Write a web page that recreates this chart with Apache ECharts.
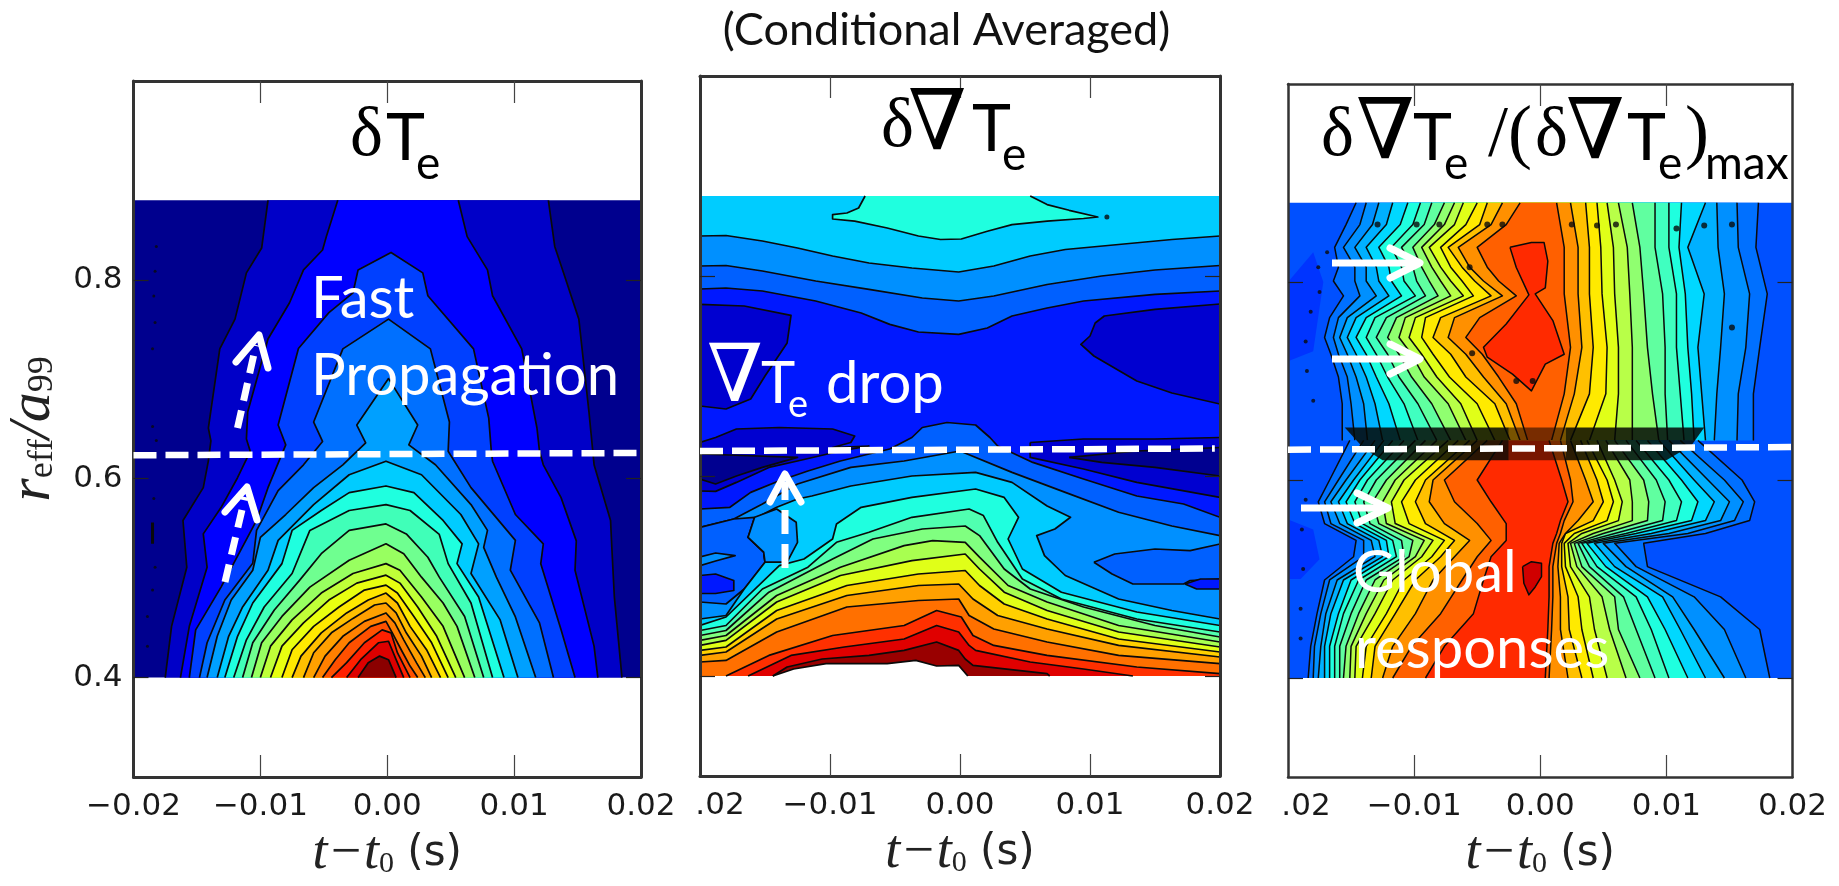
<!DOCTYPE html>
<html><head><meta charset="utf-8">
<style>html,body{margin:0;padding:0;background:#fff}#c{width:1839px;height:886px}</style>
<script src="https://cdn.jsdelivr.net/npm/echarts@6/dist/echarts.min.js"></script>
</head><body><div id="c"></div>
<script>
// All contour vertices are [t in ms, r_eff/a99].
const xTicks = [-0.01, 0, 0.01];
const yTicks = [0.4, 0.6, 0.8];

// ---------- Panel 1: delta Te ----------
const tempColors = ['#0000c8','#0000ff','#0040ff','#0070ff','#00a0ff','#00ccff','#1fffdf','#40ffb8','#6fff90','#98ff60','#c0ff38','#e8ff10','#ffe800','#ffc000','#ffa000','#ff8000','#ff5000','#ff2000','#dd0000','#8b0000'];
const tempContours = [
 [[-17.5,.4],[-17,.4515],[-15.8,.511],[-16.1,.558],[-14.5,.591],[-14.1,.618],[-13.9,.638],[-14.1,.651],[-13.2,.7306],[-12,.7605],[-11.1,.807],[-9.9,.832],[-9.4,.88],[12.7,.88],[13.2,.8336],[13.9,.807],[15.1,.7605],[15.9,.667],[16.2,.6276],[16.3,.614],[17.6,.558],[17.7,.531],[17.9,.481],[18.5,.4]],
 [[-16.3,.4],[-15.6,.4515],[-14.2,.511],[-14.5,.5445],[-13.1,.571],[-11.8,.601],[-10.8,.6276],[-11.1,.64],[-11,.667],[-9.4,.7405],[-7.7,.777],[-6.6,.81],[-5.1,.83],[-4.8,.8435],[-3.9,.88],[5.6,.88],[6.3,.8435],[7.9,.81],[8.3,.784],[10.6,.7306],[11.8,.651],[12,.6276],[12.3,.614],[13.7,.581],[14.9,.5375],[14.8,.508],[16.3,.4316],[16.6,.4]],
 [[-15.6,.4],[-15.1,.448],[-13.1,.491],[-10.3,.558],[-9.4,.591],[-8,.634],[-8.6,.654],[-7,.731],[-4.6,.767],[-2.7,.787],[-2.3,.81],[.3,.8276],[2.8,.807],[3.2,.784],[6.8,.7306],[8,.661],[8.2,.6276],[8.3,.6176],[10.1,.564],[12.3,.5345],[12.1,.5146],[13.7,.448],[14.8,.4]],
 [[-14.8,.4],[-14.2,.435],[-12.8,.478],[-10.6,.515],[-10.3,.548],[-8.6,.588],[-6.6,.614],[-5.1,.6375],[-5.8,.657],[-3.5,.7306],[.1,.7605],[3.4,.7306],[4.9,.657],[4.8,.6276],[6.6,.591],[10.1,.538],[9.7,.508],[12,.455],[13.1,.4]],
 [[-14.2,.4],[-13.4,.4415],[-12.3,.478],[-10.6,.508],[-10,.541],[-8,.564],[-5.8,.591],[-3.5,.614],[-1.7,.636],[-2.4,.654],[.1,.7007],[2.4,.654],[1.7,.634],[3.8,.614],[6.6,.574],[7.9,.548],[7.6,.531],[8.6,.501],[10.1,.461],[11.7,.4]],
 [[-13.4,.4],[-12.5,.4415],[-11.4,.471],[-9.4,.508],[-8.6,.538],[-5.8,.574],[-3,.604],[-.1,.6176],[2.7,.604],[5.8,.564],[7.2,.5345],[6.6,.5047],[8.9,.458],[10.3,.4]],
 [[-12.8,.4],[-11.8,.4415],[-10.6,.475],[-8.3,.5146],[-7.5,.548],[-5.2,.568],[-3,.586],[-.1,.5927],[2.1,.586],[4.4,.558],[5.9,.5345],[5.5,.5146],[7.2,.481],[9.2,.4]],
 [[-12.1,.4],[-11.1,.438],[-9.7,.471],[-7.5,.5047],[-6.1,.548],[-3,.568],[-.1,.574],[1.8,.568],[4.1,.544],[4.8,.5146],[6.6,.475],[8.3,.4]],
 [[-11.4,.4],[-10.6,.435],[-8.9,.468],[-6.9,.498],[-5.2,.5246],[-3,.548],[-.1,.5545],[1.5,.5445],[3.2,.521],[4.1,.501],[6.1,.4615],[7.6,.4]],
 [[-10.7,.4],[-9.9,.435],[-8.3,.4615],[-6.1,.491],[-3,.518],[-.1,.5345],[1.3,.5246],[2.7,.501],[4.4,.475],[5.5,.4515],[6.9,.4]],
 [[-10,.4],[-9.2,.4316],[-7.5,.458],[-5.2,.485],[-2.7,.5047],[-.1,.5146],[1,.508],[2.7,.481],[4.4,.4515],[6.1,.4]],
 [[-9.2,.4],[-8.3,.4316],[-6.6,.455],[-4.6,.478],[-2.4,.495],[-.1,.503],[1,.495],[2.4,.471],[3.9,.4415],[5.4,.4]],
 [[-8.3,.4],[-7.5,.428],[-5.8,.4515],[-3.8,.471],[-1.8,.488],[-.1,.493],[.8,.485],[2.1,.4615],[3.5,.435],[4.8,.4]],
 [[-7.5,.4],[-6.8,.4216],[-5.2,.445],[-3.2,.465],[-1.5,.478],[-.1,.485],[.8,.475],[1.8,.4515],[3.1,.428],[4.2,.4]],
 [[-6.6,.4],[-5.8,.425],[-4.4,.445],[-2.7,.4595],[-1,.473],[-.1,.475],[.7,.465],[1.5,.445],[2.7,.4216],[3.5,.4]],
 [[-5.8,.4],[-4.9,.4216],[-3.5,.4415],[-1.8,.4565],[-.1,.465],[.6,.455],[1.3,.438],[2.3,.415],[3,.4]],
 [[-5.1,.4],[-4.1,.418],[-3,.435],[-1.3,.4515],[-.1,.4565],[.4,.445],[1.1,.428],[1.8,.4116],[2.4,.4]],
 [[-4.4,.4],[-3.2,.415],[-1.8,.435],[-.4,.448],[.3,.445],[.8,.425],[1.8,.4]],
 [[-3.2,.4],[-2.1,.418],[-.7,.435],[.1,.4365],[.7,.418],[1.3,.4]],
 [[-2.3,.4],[-1.5,.415],[-.6,.4216],[.1,.418],[.7,.4]]
];
const tempDots = [[-18.2,.8336],[-18.3,.8086],[-18.4,.7837],[-18.3,.757],[-18.5,.7306],[-18.5,.6525],[-18.2,.6385],[-18.4,.58],[-18.3,.511],[-18.5,.488],[-18.9,.4615],[-18.9,.4316]];
const tempBar = [[-18.5,.556],[-18.5,.5345]];

// ---------- Panel 2: delta grad Te ----------
const gradColors = ['#0018ff','#0060ff','#0090ff','#00ccff','#1fffdf','#0000d0','#0000d0','#0060ff','#0090ff','#0000d0','#000090','#0000d0','#000090','#0060ff','#0090ff','#0060ff','#0018ff','#0018ff','#00ccff','#0090ff','#1fffdf','#50ffb0','#80ff80','#a8ff50','#e0ff18','#ffd000','#ffa000','#ff7000','#ff3000','#e00000','#990000','#ffffff'];
const gradContours = [
 [[-20,.4],[-20,.88],[20,.88],[20,.4]],
 [[-20,.88],[20,.88],[20,.785],[15,.7816],[9.5,.775],[6.7,.768],[4,.76],[2.1,.748],[-.1,.7416],[-3.2,.744],[-5.4,.7516],[-7.6,.763],[-11.1,.775],[-15.2,.785],[-18,.788],[-20,.787]],
 [[-20,.88],[20,.88],[20,.8105],[15,.806],[10.9,.8],[6.7,.7915],[2.6,.78],[-.1,.775],[-2.9,.778],[-7,.7866],[-11.1,.795],[-15.2,.805],[-18,.8105],[-20,.81]],
 [[-20,.88],[20,.88],[20,.84],[16.3,.8365],[12.2,.8315],[8.1,.8265],[5.4,.82],[2.6,.81],[-.1,.804],[-3.7,.808],[-7,.813],[-9.8,.82],[-12.5,.828],[-15.2,.835],[-18,.8405],[-20,.84]],
 [[-7.3,.88],[-7.8,.868],[-8.7,.863],[-9.8,.8614],[-9.8,.857],[-8.1,.8548],[-5.6,.848],[-3.2,.84],[-1.5,.8365],[.1,.837],[2.1,.8448],[4,.8514],[6.7,.8548],[9.5,.8575],[10.6,.859],[8.4,.8657],[6.7,.8714],[5.4,.88]],
 [[-20,.7716],[-16.6,.77],[-13,.7606],[-13.3,.733],[-15,.7],[-16.1,.677],[-18,.667],[-20,.67]],
 [[20,.772],[15,.7666],[11.1,.76],[10.4,.753],[10,.74],[9.3,.7316],[10.3,.72],[13.6,.695],[16.3,.683],[20,.672]],
 [[-20,.567],[-17.7,.5687],[-16.1,.5836],[-13.9,.5953],[-11.7,.605],[-9.2,.615],[-7,.622],[-5.4,.627],[-3.7,.6385],[-2.9,.6485],[-1,.6535],[1.2,.651],[2.3,.6385],[2.9,.63],[5.6,.6136],[9.5,.597],[13.6,.58],[17.2,.572],[20,.5587],[20,.4],[-20,.4]],
 [[-20,.5487],[-17.4,.557],[-15.2,.572],[-12.5,.592],[-8.4,.6086],[-4.3,.615],[0,.625],[4,.6036],[8.1,.5836],[12.2,.5637],[16.3,.55],[20,.5404],[20,.4],[-20,.4]],
 [[-20,.6335],[-18.8,.6385],[-17.2,.647],[-13.9,.6485],[-9.8,.647],[-8.1,.64],[-8.4,.6335],[-9.8,.6285],[-7,.63],[-9.2,.625],[-12.5,.615],[-14.7,.6086],[-17.2,.5936],[-18.8,.5846],[-20,.585]],
 [[-20,.622],[-12.5,.6186],[-15.2,.6086],[-17.2,.6],[-18.8,.592],[-20,.597]],
 [[5.4,.6335],[9.5,.637],[15,.637],[20,.6385],[20,.5786],[13.6,.5936],[9.5,.607],[5.4,.6186]],
 [[8.4,.6186],[13.6,.625],[20,.6285],[20,.6],[15,.6086],[10.9,.6136]],
 [[-20,.5487],[-17.4,.557],[-15.8,.5587],[-16.3,.5387],[-15.1,.5238],[-15,.5138],[-16.6,.487],[-18,.472],[-20,.474]],
 [[-20,.519],[-18.8,.523],[-17.3,.5204],[-18.8,.515],[-20,.5104]],
 [[10.3,.5138],[11.9,.522],[15,.527],[17.7,.5254],[20,.532],[20,.497],[17.7,.4955],[17.2,.492],[13.3,.492],[11.7,.502]],
 [[17.3,.492],[18.5,.497],[20,.497],[20,.487],[18.2,.487]],
 [[-20,.5005],[-18.8,.502],[-17.4,.4955],[-17.4,.4855],[-18.8,.4825],[-20,.4825]],
 [[-20,.457],[-18,.4605],[-16.6,.487],[-15,.5138],[-15.1,.5238],[-16.3,.5387],[-15.6,.5587],[-14.1,.5687],[-12.5,.577],[-11.4,.58],[-8.4,.59],[-3.7,.6],[1.2,.6036],[4,.5936],[6.7,.57],[8.5,.5587],[7.3,.547],[5.9,.5404],[6.5,.5204],[8.1,.5005],[12.2,.477],[16.3,.4655],[20,.457],[20,.4],[-20,.4]],
 [[-15.8,.5587],[-14.1,.567],[-12.6,.5537],[-12.5,.5337],[-13.3,.5138],[-15,.5138],[-15.1,.5238],[-16.3,.5387]],
 [[-20,.4505],[-18,.459],[-13.9,.5104],[-12,.517],[-9.8,.537],[-9.5,.552],[-7.6,.5687],[-3.7,.5786],[1.2,.587],[3.4,.5786],[4.5,.5587],[3.7,.537],[4.8,.507],[7.8,.4838],[13.6,.464],[20,.4505],[20,.4],[-20,.4]],
 [[-20,.4455],[-18,.4505],[-15.2,.487],[-11.7,.5088],[-9.5,.5337],[-7,.5437],[-3.7,.5587],[.7,.567],[1.8,.5604],[2.9,.5337],[4.8,.497],[7.8,.477],[13.6,.457],[20,.444],[20,.4],[-20,.4]],
 [[-20,.4405],[-18,.4455],[-14.7,.4838],[-9.8,.517],[-6.7,.537],[-2.9,.547],[.4,.55],[1.5,.5404],[3.4,.507],[5.4,.487],[9.5,.469],[15,.4505],[20,.439],[20,.4],[-20,.4]],
 [[-20,.4356],[-18,.4405],[-14.1,.4805],[-9.2,.5088],[-4.3,.5304],[-2.1,.5354],[.4,.5337],[1.5,.5188],[3.7,.4905],[6.7,.474],[12.2,.4505],[20,.434],[20,.4],[-20,.4]],
 [[-20,.4306],[-18,.4356],[-14.1,.474],[-9.2,.5005],[-3.7,.5154],[.4,.522],[1.5,.507],[3.4,.4838],[6.7,.4655],[12.2,.444],[20,.429],[20,.4],[-20,.4]],
 [[-20,.4256],[-18,.429],[-14.1,.4655],[-8.7,.4905],[-3.2,.502],[.4,.5055],[1.5,.4905],[3.4,.472],[6.7,.457],[12.2,.437],[20,.424],[20,.4],[-20,.4]],
 [[-20,.4206],[-18,.424],[-14.1,.457],[-8.7,.4805],[-3.2,.4905],[-.1,.492],[1,.477],[2.9,.4605],[6.7,.447],[12.2,.4306],[20,.419],[20,.4],[-20,.4]],
 [[-20,.414],[-18,.4156],[-14.1,.444],[-8.7,.469],[-3.2,.4755],[-.1,.477],[.7,.4605],[2.6,.447],[6.7,.434],[12.2,.4206],[20,.4123],[20,.4],[-20,.4]],
 [[-18,.4],[-14.7,.4206],[-9.8,.4405],[-4.3,.4505],[-1.8,.4655],[.1,.459],[1,.4405],[2.6,.4306],[6.7,.4206],[13.6,.409],[20,.4023],[20,.4]],
 [[-16.3,.4],[-13,.4206],[-8.9,.429],[-4.3,.437],[-1.8,.4505],[-.1,.444],[.7,.4306],[1.2,.4256],[5.4,.414],[9.5,.407],[13.3,.4]],
 [[-14.4,.4],[-13.3,.409],[-10.6,.417],[-7,.4206],[-4.3,.4256],[-1.8,.434],[-.1,.4256],[.4,.417],[1,.4106],[6.7,.4023],[6.9,.4]],
 [[-14.4,.4],[-12.8,.407],[-10.3,.4123],[-5.6,.4123],[-3.4,.4156],[-1.8,.41],[-.1,.4106],[.6,.4]]
];
const gradDots = [[11.3,.859]];

// ---------- Panel 3: normalised delta grad Te ----------
const normColors = ['#0070ff','#0090ff','#00b0ff','#00d8ff','#1fffdf','#40ffc0','#60ffa0','#90ff70','#b8ff48','#e0ff18','#ffea00','#ffc000','#ff9000','#ff6000','#ff2a00'];
const upperRowsLeft = [.88,.858,.835,.815,.801,.786,.764,.744,.727,.704,.677,.64];
const upperRowsRight = [.88,.835,.788,.734,.687,.64];
const upperLeftT = [
 [-14.6,-15.4,-16.3,-16,-16.4,-15.6,-16.7,-17.1,-16.6,-16,-15.7,-15.7],
 [-13.8,-14.3,-15.6,-14.7,-14.7,-14.3,-16,-16.4,-16,-15.3,-15,-14.7],
 [-12.8,-13.3,-14.7,-13.8,-13.8,-13,-15.3,-15.9,-15.3,-14.6,-14,-13.7],
 [-11.7,-12.2,-13.8,-13,-12.8,-12,-14.6,-15.3,-14.6,-13.8,-13.1,-12.5],
 [-10.5,-11.1,-12.8,-12,-11.8,-11,-13.8,-14.6,-13.8,-13,-12,-11.1],
 [-9.5,-10.1,-11.8,-11,-10.8,-9.9,-13.1,-13.8,-13,-12.1,-10.8,-9.7],
 [-8.6,-9.2,-11,-10.1,-9.8,-9.1,-12.2,-13,-12.1,-11.2,-9.7,-8.2],
 [-7.6,-8.4,-10.1,-9.4,-8.8,-8.1,-11.4,-12.1,-11.2,-10.2,-8.6,-7.1],
 [-6.8,-7.6,-9.4,-8.6,-7.9,-7.1,-10.7,-11.2,-10.2,-9.2,-7.3,-5.9],
 [-6.1,-6.8,-8.8,-7.9,-7.1,-6.1,-9.9,-10.4,-9.4,-8.2,-6.3,-5],
 [-5,-5.9,-7.9,-7.1,-6.2,-5.3,-9.1,-9.4,-8.5,-7.2,-5,-3.6],
 [-4.2,-4.8,-7.3,-6.2,-5.2,-3.9,-7.9,-8.5,-7.1,-5.9,-3.6,-2.4],
 [-3,-3.9,-6.5,-5.6,-4.5,-3,-6.8,-7.3,-5.9,-4.5,-2.7,-1.6],
 [-1.6,-2.7,-5,-4.2,-3.3,-1.9,-4.8,-5.9,-4.6,-3.3,-1.9,-1]
];
const upperRightT = [
 [17.3,17.1,18,17.4,16.9,16.9],[15.6,15.7,16.6,16.3,15.7,15.6],[14,14.1,14.6,14.3,14,13.8],[13.1,11.7,13,12.5,12.8,13.1],
 [11.2,11,11.5,11.7,12,12.2],[10.2,10.2,10.8,10.8,11.1,11.4],[9.1,9.1,9.7,9.9,9.9,10.1],[7.3,7.9,8.2,8.5,8.9,9.4],
 [6.2,6.9,7.1,7.3,7.3,7.3],[5.3,5.8,5.9,6.2,6.2,5.9],[4.5,4.8,4.9,5.3,5.2,3.9],[3.6,3.9,3.9,4.2,3.9,2.4],[2.4,3,3,3.3,2.7,1.6],[1.3,1.9,1.9,2.4,1.9,.9]
];
const upperRedIsland = [[-2.4,.835],[-.7,.84],[.3,.84],[.6,.821],[.4,.794],[-.4,.788],[1,.761],[1.9,.727],[.4,.717],[-.7,.69],[-2.2,.707],[-4.2,.724],[-4.5,.734],[-2.7,.7575],[-.9,.787],[-1.9,.8146]];
const lowerRowsLeft = [.64,.6,.578,.556,.539,.5225,.499,.465,.432,.4];
const lowerRowsRight = [.64,.6,.578,.559,.546,.536,.5125,.482,.449,.4];
const lowerLeftT = [
 [-15.1,-16.7,-17.6,-17.1,-14.6,-14.8,-17.1,-17.7,-18.2,-18.4],
 [-14,-16,-17.1,-16.6,-14,-14,-16.7,-17.4,-17.9,-18],
 [-13.1,-15.4,-16.6,-15.9,-13.4,-13.1,-16.1,-17,-17.4,-17.6],
 [-12.4,-14.8,-16,-15.3,-12.8,-12.5,-15.6,-16.6,-17.1,-17.1],
 [-11.7,-14.3,-15.4,-14.7,-12.2,-12,-15,-16,-16.7,-16.7],
 [-10.8,-13.7,-14.7,-14.1,-11.7,-11.4,-14.4,-15.6,-16.3,-16.3],
 [-9.9,-13,-14,-13.5,-11,-10.8,-13.8,-15,-15.9,-15.9],
 [-9.1,-12.2,-13.3,-12.8,-10.1,-10.4,-13.1,-14.4,-15.4,-15.6],
 [-8.2,-11.5,-12.5,-12.2,-9.2,-9.9,-12.4,-13.8,-15,-15.1],
 [-7.3,-10.8,-11.8,-11.5,-8.5,-9.4,-11.7,-13.1,-14.6,-14.7],
 [-6.5,-9.9,-11,-10.4,-7.6,-8.6,-10.8,-12.2,-13.8,-14.1],
 [-5.6,-9.1,-9.9,-9.1,-6.8,-7.9,-9.9,-11.5,-13.1,-13.4],
 [-5,-8.5,-8.8,-7.6,-5.6,-6.8,-8.5,-9.9,-11.7,-12.5],
 [-4.2,-7.6,-6.8,-5,-3.9,-5,-6.2,-7.9,-10.2,-11.7],
 [-3,-5,-3.9,-2.7,-2.7,-3.9,-4.5,-5.3,-7.6,-9.1]
];
const lowerRightT = [
 [12.5,16,17,16.6,13.1,8.2,8.5,14.3,17.4,18.2],[11.1,14.6,16.1,15.4,11.7,5.9,7.6,12.2,14.6,16.3],[10.2,13.3,15,14.3,10.2,5,6.8,10.5,12.2,14.6],
 [9.4,12.2,13.8,13.1,8.8,4.3,5.9,9.7,11.1,13.1],[8.5,11.2,12.5,12,7.6,3.7,5.2,8.5,9.9,11.7],[7.6,10.2,11.2,10.8,6.8,3.3,4.5,7.6,8.8,10.2],
 [6.8,9.2,9.9,9.7,5.9,3,3.9,6.6,7.6,9.1],[5.9,8.2,8.6,8.5,5,2.7,3.3,5.9,6.2,7.9],[5.2,7.1,7.3,7.3,4.2,2.4,2.9,4.9,5.5,6.8],
 [4.5,5.9,6.5,6.2,3.3,2.2,2.4,3.9,4.3,5.3],[3.7,5.3,5.8,5.3,2.7,1.9,2,3,3.3,4.2],[3.2,4.5,5,4.2,2,1.7,1.7,2.2,2.3,3.3],
 [2.4,3.6,4.2,3,2,1.5,1.4,1.6,1.6,2.2],[1.6,2.4,2.6,1.9,1.6,1.3,1,1,.9,.7],[.7,1.7,2.2,1.6,1.3,1,.7,.7,.6,.4]
];
const lowerDarkIsland = [[-1.4,.5125],[-.7,.5175],[.1,.516],[.1,.5024],[-.4,.492],[-.9,.484],[-1.3,.4957]];
const normDarkPatches = [
 [[-20,.8],[-18,.83],[-17.2,.8],[-18,.73],[-20,.72]],
 [[-20,.56],[-18,.55],[-17.5,.52],[-19,.5],[-20,.5]]
];
const normBand = [
 [[-15.5,.653],[-2.5,.653],[-2.5,.62],[-12.5,.62],[-14,.632]],
 [[-2.5,.653],[2,.653],[2,.62],[-2.5,.62]],
 [[2,.653],[13,.653],[12,.635],[10,.62],[2,.62]]
];
const normDots = [[2.5,.858],[4.5,.857],[6,.858],[-3,.858],[-4.2,.858],[10.8,.854],[13,.857],[15.2,.858],[-1.9,.7],[-.6,.7],[-5.4,.728],[-5.6,.815],[15.2,.754],[-9.8,.858],[-8,.858],[-12.9,.858]];
const normDashes = [[-16.9,.83],[-17.6,.815],[-17.5,.79],[-18.2,.77],[-18.6,.74],[-18.5,.71],[-18,.68],[-18.6,.58],[-18.9,.55],[-18.8,.51],[-19,.47],[-19,.44]];

// ---------- Dashed reference lines ----------
const tempDash = [[-20,.6236],[20,.6259]];
const gradDash = [[-20,.625],[19.6,.6275]];
const normDash = [[-20,.6306],[20,.6333]];

const FRAME_R = [.4,.88,.64];
function onFrame(a,b){
  if(a[1]===b[1] && FRAME_R.indexOf(a[1])>=0) return true;
  return Math.abs(a[0])===20 && Math.abs(b[0])===20;
}
function ringSeries(idx, ring, color, z, lw){
  return {
    type:'custom', xAxisIndex:idx*2, yAxisIndex:idx*2, z:z, silent:true, clip:true, animation:false,
    data: ring.map(p=>[p[0]/1000,p[1]]),
    encode:{x:0,y:1},
    renderItem(params, api){
      if(params.dataIndex!==0) return null;
      const pts = ring.map(p=>api.coord([p[0]/1000,p[1]]));
      const children=[{type:'polygon',shape:{points:pts},style:{fill:color}}];
      if(lw>0){
        let run=[];
        const flush=()=>{ if(run.length>1) children.push({type:'polyline',shape:{points:run},style:{fill:'none',stroke:'#0a0a0a',lineWidth:lw,lineJoin:'round'}}); run=[]; };
        for(let i=0;i<ring.length;i++){
          const j=(i+1)%ring.length;
          if(onFrame(ring[i],ring[j])){ flush(); continue; }
          if(!run.length) run.push(pts[i]);
          run.push(pts[j]);
        }
        flush();
      }
      return {type:'group',children};
    }
  };
}
function rowRing(leftT,rowsL,rightT,rowsR){
  const left=leftT.map((t,i)=>[t,rowsL[i]]);
  const right=rightT.map((t,i)=>[t,rowsR[i]]).reverse();
  return left.concat(right);
}
function dotSeries(idx,pts,size,z){
  return {type:'scatter',xAxisIndex:idx*2,yAxisIndex:idx*2,silent:true,z:z,symbolSize:size,itemStyle:{color:'#0a0a0a'},animation:false,
    data:pts.map(p=>[p[0]/1000,p[1]])};
}
function lineSeries(idx,pts,opts,z){
  return {type:'line',xAxisIndex:idx*2,yAxisIndex:idx*2,silent:true,z:z,symbol:'none',animation:false,lineStyle:opts,
    data:pts.map(p=>[p[0]/1000,p[1]])};
}

const series=[];
const baseRect=[[-20,.4],[-20,.88],[20,.88],[20,.4]];
const dashStyle={color:'#fff',width:6.5,type:[23,9]};
// panel 1
series.push(ringSeries(0,baseRect,'#00008e',2,0));
tempContours.forEach((c,i)=>series.push(ringSeries(0,c,tempColors[i],3+i,1.7)));
series.push(dotSeries(0,tempDots,3,60));
series.push(lineSeries(0,tempBar,{color:'#0a0a0a',width:3},60));
series.push(lineSeries(0,tempDash,dashStyle,95));
// panel 2
gradContours.forEach((c,i)=>series.push(ringSeries(1,c,gradColors[i],2+i,i===0?0:1.7)));
series.push(dotSeries(1,gradDots,5,60));
series.push(lineSeries(1,gradDash,dashStyle,95));
// panel 3
series.push(ringSeries(2,baseRect,'#0050ff',2,0));
normDarkPatches.forEach(c=>series.push(ringSeries(2,c,'#0034ff',3,0)));
upperLeftT.forEach((l,i)=>series.push(ringSeries(2,rowRing(l,upperRowsLeft,upperRightT[i],upperRowsRight),normColors[i],4+i,1.5)));
series.push(ringSeries(2,upperRedIsland,normColors[14],20,1.5));
lowerLeftT.forEach((l,i)=>series.push(ringSeries(2,rowRing(l,lowerRowsLeft,lowerRightT[i],lowerRowsRight),normColors[i],21+i,1.5)));
series.push(ringSeries(2,lowerDarkIsland,'#d00000',40,1.5));
normBand.forEach((c,i)=>series.push(ringSeries(2,c,i===1?'rgba(30,10,0,.6)':'rgba(5,8,5,.85)',41,0)));
series.push(dotSeries(2,normDots,6,60));
series.push(dotSeries(2,normDashes,4,60));
series.push(lineSeries(2,normDash,dashStyle,95));

const panels=[
 {left:133.5,top:81,width:507.5,height:696,lw:3,shift:0},
 {left:700,top:76,width:520,height:700,lw:3,shift:40},
 {left:1288,top:84,width:504.5,height:693,lw:2.5,shift:36}
];
const grids=[],xAxes=[],yAxes=[];
panels.forEach((p,i)=>{
  grids.push({left:p.left,top:p.top,width:p.width,height:p.height,containLabel:false,outerBoundsMode:'none'});
  const fmtX=v=>{
    if(Math.abs(v)<1e-9) return '0.00';
    if(p.shift && v<-0.015) return '{cut|.02}';
    return (v<0?'−':'')+Math.abs(v).toFixed(2);
  };
  const line={show:true,onZero:false,lineStyle:{color:'#333',width:p.lw}};
  const commonX={type:'value',gridIndex:i,min:-0.02,max:0.02,interval:0.01,splitLine:{show:false},z:90,axisLine:line,
    axisTick:{show:true,inside:true,length:22,customValues:xTicks,lineStyle:{color:'#444',width:1.2}}};
  const commonY={type:'value',gridIndex:i,min:0.3,max:1.0,splitLine:{show:false},z:90,axisLine:line,
    axisTick:{show:true,inside:true,length:15,customValues:yTicks,lineStyle:{color:'#222',width:1.2}}};
  xAxes.push(Object.assign({},commonX,{position:'bottom',
    axisLabel:{show:true,margin:14,formatter:fmtX,color:'#1a1a1a',fontFamily:'DejaVu Sans',fontSize:31,hideOverlap:false,showMinLabel:true,showMaxLabel:true,
      rich:{cut:{fontFamily:'DejaVu Sans',fontSize:31,color:'#1a1a1a',padding:[0,0,0,p.shift]}}},
    name:'{i|t−t}{s|0}{p| (s)}',nameLocation:'middle',nameGap:47,
    nameTextStyle:{rich:{i:{fontFamily:'Liberation Serif',fontStyle:'italic',fontSize:54,color:'#222'},s:{fontFamily:'Liberation Serif',fontSize:30,color:'#222',padding:[20,0,0,0]},p:{fontFamily:'DejaVu Sans',fontSize:42,color:'#222'}}}}));
  xAxes.push(Object.assign({},commonX,{position:'top',axisLabel:{show:false}}));
  const left=Object.assign({},commonY,{position:'left',
    axisLabel:{show:i===0,margin:11,color:'#1a1a1a',fontFamily:'DejaVu Sans',fontSize:31,customValues:yTicks,formatter:v=>v.toFixed(1)}});
  if(i===0){
    left.name='{i|r}{s|eff}{i|/a}{s|99}';left.nameLocation='middle';left.nameGap=70;left.nameRotate=90;
    left.nameTextStyle={rich:{i:{fontFamily:'Liberation Serif',fontStyle:'italic',fontSize:60,color:'#222'},s:{fontFamily:'Liberation Serif',fontSize:36,color:'#222',padding:[18,0,0,0]}}};
  }
  yAxes.push(left);
  yAxes.push(Object.assign({},commonY,{position:'right',axisLabel:{show:false}}));
});

const LATO='Lato, "Open Sans", sans-serif', SERIF='"Liberation Serif", serif', NAB='"DejaVu Serif", serif';
function txt(s,x,base,size,font,color,align,weight){
  return {type:'text',z:300,silent:true,x:x,y:base-.33*size,style:{text:s,font:(weight||'normal')+' '+size+'px '+font,fill:color,textAlign:align||'left',textVerticalAlign:'middle',verticalAlign:'middle'}};
}
function seg(pts,w,dash){
  return {type:'polyline',z:300,silent:true,shape:{points:pts},style:{fill:'none',stroke:'#fff',lineWidth:w,lineCap:'butt',lineJoin:'round',lineDash:dash||null}};
}
function head(a,tip,b,w){ const o=seg([a,tip,b],w); o.style.lineCap='round'; return o; }
const K='#000', W='#fff';
const graphic=[
 txt('(Conditional Averaged)',946.5,45,45,LATO,'#111','center'),
 // panel titles
 txt('δ',350,160,70,SERIF,K), txt('T',386,160,66,LATO,K), txt('e',416,179,46,LATO,K),
 txt('δ',881,151,70,SERIF,K), txt('∇',908,155,84,NAB,K), txt('T',972,151,66,LATO,K), txt('e',1002,170,46,LATO,K),
 txt('δ',1321,160,70,SERIF,K), txt('∇',1356,164,84,NAB,K), txt('T',1413,160,66,LATO,K), txt('e',1444,179,46,LATO,K),
 txt('/(',1488,160,72,SERIF,K), txt('δ',1535,160,70,SERIF,K), txt('∇',1566,164,84,NAB,K), txt('T',1627,160,66,LATO,K), txt('e',1658,179,46,LATO,K),
 txt(')',1685,160,72,SERIF,K), txt('max',1705,179,46,LATO,K),
 // annotations
 txt('Fast',311,318,58,LATO,W), txt('Propagation',311,395,58,LATO,W),
 txt('∇',707,407,80,NAB,W), txt('T',761,403,58,LATO,W), txt('e',788,417,38,LATO,W), txt('drop',826,403,58,LATO,W),
 txt('Global',1353,592,58,LATO,W), txt('responses',1355,668,58,LATO,W),
 // arrows
 seg([[237.5,428],[256,345]],7,[18,10]), head([236,362],[259,335],[268,368],7),
 seg([[225,582],[245,497]],7,[18,10]), head([225,512],[247,487],[257,520],7),
 seg([[785,568],[785,482]],7,[24,10]), head([770,502],[785,474],[801,502],7),
 seg([[1332,263],[1416,263]],7), head([1390,248],[1420,263],[1390,278],7),
 seg([[1332,359],[1416,359]],7), head([1390,344],[1420,359],[1390,374],7),
 seg([[1301,508],[1384,508]],7), head([1357,493],[1388,508],[1357,523],7)
];

const chart=echarts.init(document.getElementById('c'),null,{renderer:'canvas'});
chart.setOption({animation:false,backgroundColor:'#fff',grid:grids,xAxis:xAxes,yAxis:yAxes,series:series,graphic:graphic});
</script></body></html>
